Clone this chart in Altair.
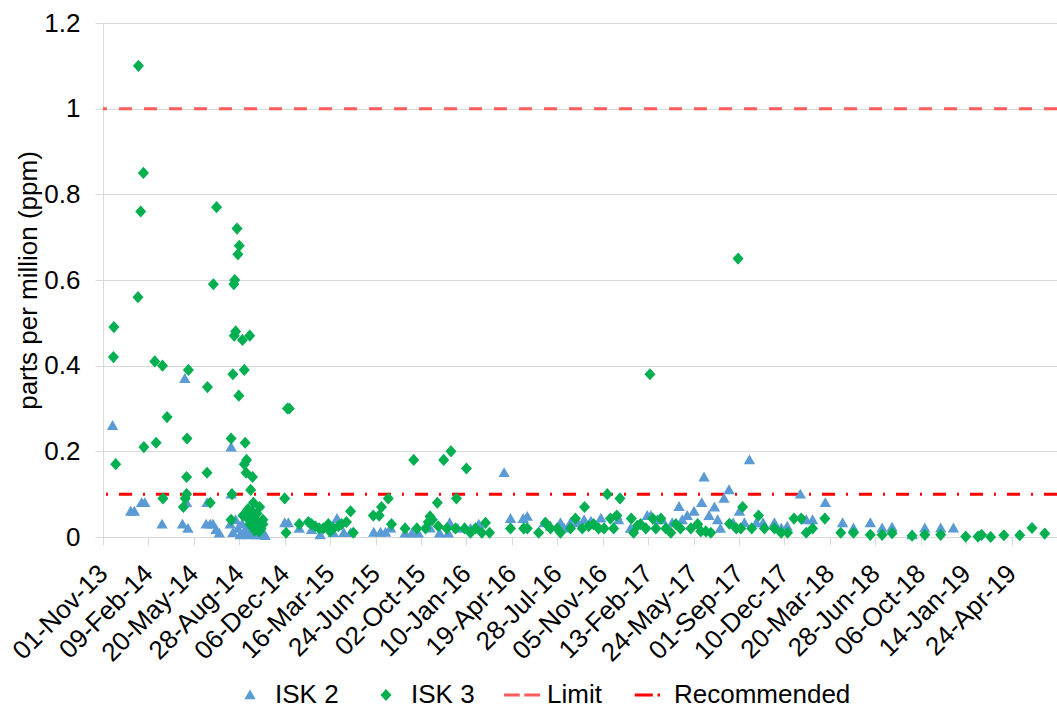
import altair as alt
import pandas as pd

FONT = "Liberation Sans"

# x axis tick labels (every 100 days) and axis extent
tick_labels = ["01-Nov-13", "09-Feb-14", "20-May-14", "28-Aug-14", "06-Dec-14",
               "16-Mar-15", "24-Jun-15", "02-Oct-15", "10-Jan-16", "19-Apr-16",
               "28-Jul-16", "05-Nov-16", "13-Feb-17", "24-May-17", "01-Sep-17",
               "10-Dec-17", "20-Mar-18", "28-Jun-18", "06-Oct-18", "14-Jan-19",
               "24-Apr-19"]
x_start = "2013-11-01"
x_end = "2019-08-02"
y_ticks = [0, 0.2, 0.4, 0.6, 0.8, 1.0, 1.2]

limit_value = 1.0
recommended_value = 0.1

series_names = ["ISK 2", "ISK 3", "Limit", "Recommended"]
series_colors = ["#5B9BD5", "#00B050", "#FF5B5B", "#FF0000"]

# ISK 2 (blue triangles)
isk2_dates = [
    "2013-11-22", "2014-01-01", "2014-01-09", "2014-01-25", "2014-02-01", "2014-03-11", "2014-04-25", "2014-04-30", "2014-05-04", "2014-05-07",
    "2014-06-18", "2014-06-16", "2014-06-25", "2014-07-01", "2014-07-08", "2014-07-15", "2014-08-10", "2014-08-10", "2014-08-08", "2014-08-14",
    "2014-08-20", "2014-08-25", "2014-08-30", "2014-09-03", "2014-09-08", "2014-09-12", "2014-09-17", "2014-09-21", "2014-09-25", "2014-09-30",
    "2014-10-04", "2014-10-09", "2014-10-13", "2014-10-20", "2014-10-24", "2014-12-06", "2014-12-14", "2015-01-07", "2015-02-03", "2015-02-22",
    "2015-03-23", "2015-03-31", "2015-04-15", "2015-04-30", "2015-06-20", "2015-07-05", "2015-07-16", "2015-07-27", "2015-08-28", "2015-09-12",
    "2015-09-26", "2015-10-22", "2015-11-12", "2015-12-01", "2015-12-04", "2015-12-22", "2016-01-19", "2016-02-06", "2016-04-02", "2016-04-16",
    "2016-05-14", "2016-05-23", "2016-06-29", "2016-07-13", "2016-08-04", "2016-08-12", "2016-08-26", "2016-09-11", "2016-09-25", "2016-10-10",
    "2016-11-01", "2016-12-06", "2016-12-10", "2017-01-05", "2017-02-11", "2017-02-19", "2017-03-05", "2017-03-16", "2017-04-07", "2017-04-22",
    "2017-04-29", "2017-05-10", "2017-05-25", "2017-06-11", "2017-06-16", "2017-06-27", "2017-07-09", "2017-07-16", "2017-07-22", "2017-07-30",
    "2017-08-10", "2017-08-19", "2017-09-02", "2017-09-13", "2017-09-24", "2017-10-09", "2017-10-24", "2017-11-18", "2017-12-03", "2017-12-16",
    "2018-01-14", "2018-01-27", "2018-02-10", "2018-03-10", "2018-04-17", "2018-05-11", "2018-06-17", "2018-07-13", "2018-08-04", "2018-09-17",
    "2018-10-15", "2018-11-19", "2018-12-17",
]
isk2_values = [
    0.26, 0.06, 0.06, 0.08, 0.08, 0.03, 0.03, 0.37, 0.08, 0.02,
    0.08, 0.03, 0.03, 0.03, 0.017, 0.009, 0.21, 0.10, 0.03, 0.01,
    0.04, 0.02, 0.005, 0.03, 0.01, 0.02, 0.005, 0.03, 0.01, 0.02,
    0.005, 0.015, 0.005, 0.01, 0.003, 0.033, 0.033, 0.02, 0.017, 0.005,
    0.01, 0.043, 0.01, 0.01, 0.011, 0.011, 0.011, 0.021, 0.009, 0.009,
    0.009, 0.021, 0.009, 0.009, 0.033, 0.02, 0.02, 0.03, 0.15, 0.043,
    0.043, 0.048, 0.033, 0.025, 0.033, 0.021, 0.033, 0.033, 0.04, 0.037,
    0.044, 0.05, 0.04, 0.02, 0.05, 0.05, 0.04, 0.04, 0.033, 0.071,
    0.04, 0.05, 0.06, 0.08, 0.14, 0.05, 0.07, 0.04, 0.02, 0.09,
    0.11, 0.033, 0.06, 0.033, 0.18, 0.033, 0.033, 0.033, 0.021, 0.025,
    0.10, 0.04, 0.04, 0.08, 0.033, 0.021, 0.033, 0.021, 0.023, 0.005,
    0.021, 0.021, 0.021,
]

# ISK 3 (green diamonds)
isk3_dates = [
    "2013-11-25", "2013-11-24", "2013-11-29", "2014-01-18", "2014-01-17", "2014-01-23", "2014-01-29", "2014-01-30", "2014-02-23", "2014-02-26",
    "2014-03-12", "2014-03-13", "2014-03-22", "2014-04-27", "2014-05-01", "2014-05-04", "2014-05-04", "2014-05-05", "2014-05-08", "2014-06-18",
    "2014-06-19", "2014-06-25", "2014-07-02", "2014-07-09", "2014-08-10", "2014-08-12", "2014-08-10", "2014-08-14", "2014-08-16", "2014-08-17",
    "2014-08-18", "2014-08-20", "2014-08-23", "2014-08-25", "2014-08-27", "2014-08-28", "2014-09-04", "2014-09-08", "2014-09-08", "2014-09-10",
    "2014-09-12", "2014-09-13", "2014-09-20", "2014-09-22", "2014-09-26", "2014-09-28", "2014-10-12", "2014-09-13", "2014-10-06", "2014-10-19",
    "2014-09-05", "2014-09-16", "2014-09-20", "2014-09-25", "2014-09-29", "2014-10-03", "2014-10-08", "2014-10-11", "2014-10-15", "2014-10-19",
    "2014-09-18", "2014-10-01", "2014-12-06", "2014-12-09", "2014-12-12", "2014-12-16", "2015-01-07", "2015-01-27", "2015-02-03", "2015-02-11",
    "2015-02-20", "2015-03-01", "2015-03-12", "2015-03-16", "2015-03-23", "2015-04-03", "2015-04-10", "2015-04-21", "2015-04-30", "2015-05-06",
    "2015-06-19", "2015-07-02", "2015-07-07", "2015-07-22", "2015-07-29", "2015-08-28", "2015-09-16", "2015-09-23", "2015-10-12", "2015-10-22",
    "2015-10-18", "2015-10-27", "2015-11-07", "2015-11-09", "2015-11-21", "2015-11-28", "2015-12-07", "2015-12-17", "2015-12-19", "2016-01-06",
    "2016-01-10", "2016-01-19", "2016-01-30", "2016-02-13", "2016-02-21", "2016-03-01", "2016-04-16", "2016-05-15", "2016-05-23", "2016-06-17",
    "2016-07-02", "2016-07-13", "2016-07-28", "2016-08-04", "2016-08-26", "2016-09-06", "2016-09-21", "2016-09-26", "2016-10-05", "2016-10-16",
    "2016-10-27", "2016-11-08", "2016-11-15", "2016-11-22", "2016-11-29", "2016-12-06", "2016-12-13", "2017-01-07", "2017-01-12", "2017-01-20",
    "2017-01-27", "2017-02-08", "2017-02-17", "2017-02-23", "2017-03-02", "2017-03-13", "2017-03-24", "2017-04-04", "2017-04-15", "2017-04-25",
    "2017-05-18", "2017-06-02", "2017-06-09", "2017-06-20", "2017-07-01", "2017-08-11", "2017-08-26", "2017-08-30", "2017-09-05", "2017-09-09",
    "2017-09-29", "2017-10-14", "2017-10-27", "2017-11-18", "2017-12-03", "2017-12-17", "2017-12-31", "2018-01-16", "2018-01-27", "2018-02-10",
    "2018-03-09", "2018-04-13", "2018-05-11", "2018-06-17", "2018-07-13", "2018-08-04", "2018-09-17", "2018-10-15", "2018-11-19", "2019-01-13",
    "2019-02-09", "2019-02-17", "2019-03-09", "2019-04-07", "2019-05-12", "2019-06-08", "2019-07-06",
]
isk3_values = [
    0.49, 0.42, 0.17, 1.10, 0.56, 0.76, 0.85, 0.21, 0.41, 0.22,
    0.40, 0.09, 0.28, 0.07, 0.09, 0.10, 0.14, 0.23, 0.39, 0.15,
    0.35, 0.08, 0.59, 0.77, 0.23, 0.10, 0.04, 0.38, 0.59, 0.47,
    0.60, 0.48, 0.72, 0.66, 0.33, 0.68, 0.46, 0.39, 0.17, 0.22,
    0.15, 0.18, 0.47, 0.11, 0.14, 0.08, 0.07, 0.055, 0.055, 0.04,
    0.05, 0.065, 0.03, 0.06, 0.045, 0.025, 0.035, 0.013, 0.02, 0.03,
    0.04, 0.015, 0.09, 0.01, 0.30, 0.30, 0.03, 0.035, 0.03, 0.025,
    0.02, 0.02, 0.03, 0.013, 0.02, 0.025, 0.03, 0.035, 0.06, 0.01,
    0.05, 0.05, 0.07, 0.09, 0.03, 0.02, 0.18, 0.02, 0.02, 0.048,
    0.035, 0.04, 0.08, 0.025, 0.18, 0.02, 0.20, 0.02, 0.09, 0.02,
    0.16, 0.01, 0.02, 0.01, 0.033, 0.01, 0.02, 0.02, 0.02, 0.01,
    0.033, 0.02, 0.02, 0.01, 0.02, 0.043, 0.02, 0.07, 0.025, 0.03,
    0.02, 0.02, 0.10, 0.043, 0.02, 0.05, 0.09, 0.043, 0.01, 0.026,
    0.03, 0.02, 0.38, 0.043, 0.02, 0.043, 0.02, 0.01, 0.03, 0.02,
    0.02, 0.03, 0.013, 0.013, 0.01, 0.031, 0.02, 0.65, 0.02, 0.07,
    0.02, 0.05, 0.02, 0.02, 0.01, 0.01, 0.043, 0.043, 0.01, 0.02,
    0.043, 0.01, 0.01, 0.005, 0.005, 0.009, 0.003, 0.005, 0.005, 0.001,
    0.001, 0.005, 0.0, 0.004, 0.004, 0.021, 0.008,
]

rows = [{"date": d, "ppm": v, "series": "ISK 2"} for d, v in zip(isk2_dates, isk2_values)]
rows += [{"date": d, "ppm": v, "series": "ISK 3"} for d, v in zip(isk3_dates, isk3_values)]
df = pd.DataFrame(rows)


def utc_dt(s):
    t = pd.Timestamp(s)
    return alt.DateTime(year=t.year, month=t.month, date=t.day, utc=True)


tick_values = [utc_dt(pd.to_datetime(t, format="%d-%b-%y")) for t in tick_labels]

# symbol paths (drawn with size 1444 -> unit = 19 px)
shape_paths = [
    "M0,-0.29L0.3,0.23L-0.3,0.23Z",                                     # triangle
    "M0,-0.32L0.29,0L0,0.32L-0.29,0Z",                                  # diamond
    "M-0.95,-0.08H-0.12V0.08H-0.95Z M0.12,-0.08H0.95V0.08H0.12Z",       # dashed line
    "M-0.75,-0.08H0.2V0.08H-0.75Z M0.45,-0.08H0.58V0.08H0.45Z",         # dash-dot line
]
SYM = 1444

x_enc = alt.X("date:T",
              scale=alt.Scale(type="utc", domain=[utc_dt(x_start), utc_dt(x_end)]),
              axis=alt.Axis(values=tick_values, format="%d-%b-%y", labelAngle=-45,
                            labelAlign="right", labelBaseline="middle", labelPadding=24,
                            labelOverlap=False, labelFlush=False, tickSize=8,
                            tickColor="#D9D9D9", domainColor="#D9D9D9", grid=False,
                            title=None))
y_axis = alt.Axis(values=y_ticks, format="~g", tickSize=8, tickColor="#D9D9D9",
                  domainColor="#D9D9D9", gridColor="#D9D9D9", labelPadding=15,
                  titlePadding=2, title="parts per million (ppm)")
y_enc = alt.Y("ppm:Q", scale=alt.Scale(domain=[0, 1.2], nice=False), axis=y_axis)

legend = alt.Legend(orient="none", legendX=128, legendY=653, direction="horizontal",
                    title=None, symbolSize=SYM, symbolStrokeWidth=0, symbolOpacity=1,
                    labelFont=FONT, labelFontSize=26, labelColor="#000000", labelLimit=0,
                    columnPadding=28, labelOffset=6, padding=0)

limit = alt.Chart(pd.DataFrame({"ppm": [limit_value]})).mark_rule(
    color="#FF5B5B", strokeWidth=3, strokeDash=[13, 12]).encode(y=y_enc)
recommended = alt.Chart(pd.DataFrame({"ppm": [recommended_value]})).mark_rule(
    color="#FF0000", strokeWidth=3, strokeDash=[13, 11, 2, 11]).encode(y=y_enc)

points = alt.Chart(df).mark_point(filled=True, opacity=1, size=SYM, strokeWidth=0).encode(
    x=x_enc,
    y=y_enc,
    color=alt.Color("series:N", scale=alt.Scale(domain=series_names, range=series_colors),
                    legend=legend),
    shape=alt.Shape("series:N", scale=alt.Scale(domain=series_names, range=shape_paths),
                    legend=legend),
)

chart = alt.layer(limit, recommended, points).properties(
    width=954, height=514,
    autosize=alt.AutoSizeParams(type="none"),
    padding={"left": 103, "top": 23, "right": 0, "bottom": 172},
    background="white",
).configure_view(strokeWidth=0).configure_axis(
    labelFont=FONT, titleFont=FONT, labelFontSize=26, titleFontSize=26,
    labelColor="#000000", titleColor="#000000", titleFontWeight="normal",
)

chart.save("out.html", embed_options={"renderer": "svg", "actions": False})
